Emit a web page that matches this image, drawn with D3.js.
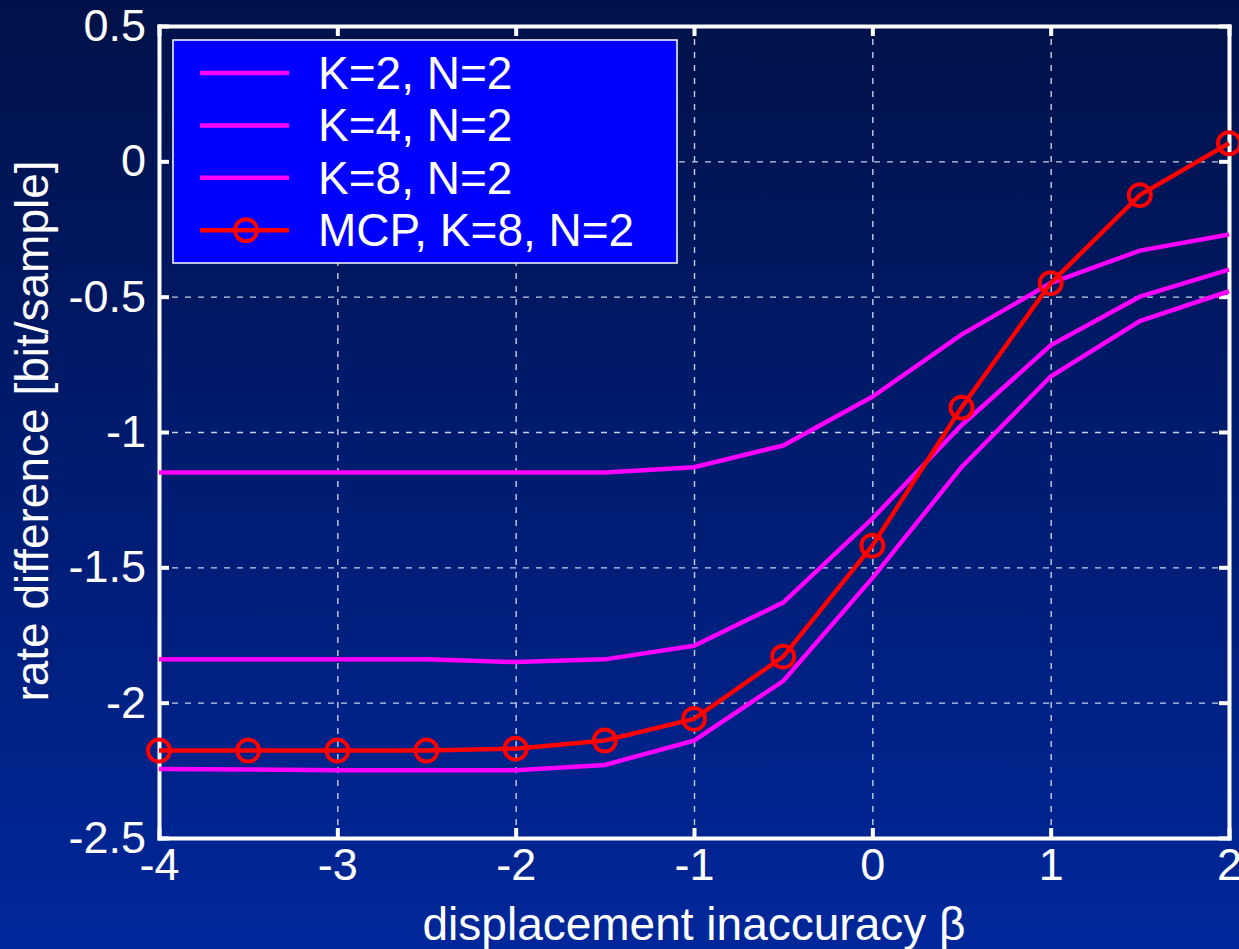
<!DOCTYPE html>
<html>
<head>
    <meta charset="utf-8">
    <script src="https://d3js.org/d3.v7.min.js"></script>
    <style>
        body { margin: 0; background: #001a70; }
        text { font-family: "Liberation Sans", Arial, sans-serif; fill: #fff; }
    </style>
</head>
<body>
<script>

    var beta = [-4, -3.5, -3, -2.5, -2, -1.5, -1, -0.5, 0, 0.5, 1, 1.5, 2];
    var k2 = [-1.15, -1.15, -1.15, -1.15, -1.15, -1.15, -1.13, -1.05, -0.87, -0.64, -0.45, -0.33, -0.27];
    var k4 = [-1.84, -1.84, -1.84, -1.84, -1.85, -1.84, -1.79, -1.63, -1.32, -0.975, -0.68, -0.50, -0.40];
    var k8 = [-2.245, -2.247, -2.25, -2.25, -2.25, -2.23, -2.14, -1.92, -1.54, -1.13, -0.795, -0.59, -0.48];
    var mcp = [-2.177, -2.177, -2.177, -2.177, -2.17, -2.14, -2.06, -1.83, -1.42, -0.91, -0.45, -0.125, 0.067];

    var xTicks = [-4, -3, -2, -1, 0, 1, 2];
    var yTicks = [-2.5, -2, -1.5, -1, -0.5, 0, 0.5];
    var legendLabels = ['K=2, N=2', 'K=4, N=2', 'K=8, N=2', 'MCP, K=8, N=2'];

    var width = 1239, height = 949;
    var plotLeft = 159, plotRight = 1229, plotTop = 26, plotBottom = 838;

    var xScale = d3.scaleLinear().domain([-4, 2]).range([plotLeft, plotRight]);
    var yScale = d3.scaleLinear().domain([-2.5, 0.5]).range([plotBottom, plotTop]);

    var svg = d3.select('body').append('svg')
        .attr('width', width)
        .attr('height', height);

    var grad = svg.append('defs').append('linearGradient')
        .attr('id', 'bg')
        .attr('x1', 0).attr('y1', 0).attr('x2', 0).attr('y2', 1);
    grad.append('stop').attr('offset', '0%').attr('stop-color', '#001148');
    grad.append('stop').attr('offset', '100%').attr('stop-color', '#00279a');

    svg.append('rect')
        .attr('width', width)
        .attr('height', height)
        .attr('fill', 'url(#bg)');

    // dashed grid
    var gridX = svg.append('g')
        .attr('transform', 'translate(0,' + plotBottom + ')')
        .call(d3.axisBottom(xScale).tickValues(xTicks.slice(1, -1)).tickSize(-(plotBottom - plotTop)).tickFormat(''));
    var gridY = svg.append('g')
        .attr('transform', 'translate(' + plotLeft + ',0)')
        .call(d3.axisLeft(yScale).tickValues(yTicks.slice(1, -1)).tickSize(-(plotRight - plotLeft)).tickFormat(''));
    [gridX, gridY].forEach(function(g) {
        g.select('.domain').remove();
        g.selectAll('line')
            .attr('stroke', '#c8cfe6')
            .attr('stroke-width', 1.4)
            .attr('stroke-dasharray', '6,7');
    });

    // axes (ticks point inward on all four sides)
    var fmt = function(d) { return String(d); };
    var axes = [
        svg.append('g').attr('transform', 'translate(0,' + plotBottom + ')')
            .call(d3.axisBottom(xScale).tickValues(xTicks).tickSizeInner(-10).tickSizeOuter(0).tickPadding(10).tickFormat(fmt)),
        svg.append('g').attr('transform', 'translate(0,' + plotTop + ')')
            .call(d3.axisTop(xScale).tickValues(xTicks).tickSizeInner(-10).tickSizeOuter(0).tickFormat('')),
        svg.append('g').attr('transform', 'translate(' + plotLeft + ',0)')
            .call(d3.axisLeft(yScale).tickValues(yTicks).tickSizeInner(-10).tickSizeOuter(0).tickPadding(13).tickFormat(fmt)),
        svg.append('g').attr('transform', 'translate(' + plotRight + ',0)')
            .call(d3.axisRight(yScale).tickValues(yTicks).tickSizeInner(-10).tickSizeOuter(0).tickFormat(''))
    ];
    axes.forEach(function(g) {
        g.select('.domain').attr('stroke', '#fff').attr('stroke-width', 4).attr('stroke-linecap', 'square');
        g.selectAll('.tick line').attr('stroke', '#fff').attr('stroke-width', 4);
        g.selectAll('.tick text')
            .attr('fill', '#fff')
            .style('font-size', '45px')
            .style('font-family', '"Liberation Sans", Arial, sans-serif');
    });

    // axis titles
    svg.append('text')
        .attr('x', (plotLeft + plotRight) / 2)
        .attr('y', 940)
        .attr('text-anchor', 'middle')
        .style('font-size', '46px')
        .text('displacement inaccuracy β');

    svg.append('text')
        .attr('transform', 'translate(48,' + 431 + ') rotate(-90)')
        .attr('text-anchor', 'middle')
        .style('font-size', '46px')
        .text('rate difference [bit/sample]');

    // series
    var line = d3.line()
        .x(function(d, i) { return xScale(beta[i]); })
        .y(function(d) { return yScale(d); });

    [k2, k4, k8].forEach(function(s) {
        svg.append('path')
            .attr('d', line(s))
            .attr('fill', 'none')
            .attr('stroke', '#ff00ff')
            .attr('stroke-width', 4.5);
    });

    svg.append('path')
        .attr('d', line(mcp))
        .attr('fill', 'none')
        .attr('stroke', '#ff0000')
        .attr('stroke-width', 4.5);

    svg.selectAll('circle.mcp').data(mcp)
        .enter().append('circle')
        .attr('class', 'mcp')
        .attr('cx', function(d, i) { return xScale(beta[i]); })
        .attr('cy', function(d) { return yScale(d); })
        .attr('r', 11)
        .attr('fill', 'none')
        .attr('stroke', '#ff0000')
        .attr('stroke-width', 4);

    // legend
    var legend = svg.append('g');
    legend.append('rect')
        .attr('x', 173).attr('y', 40)
        .attr('width', 504).attr('height', 223)
        .attr('fill', '#0000ff')
        .attr('stroke', '#fff')
        .attr('stroke-width', 1.5);

    var colors = ['#ff00ff', '#ff00ff', '#ff00ff', '#ff0000'];
    legendLabels.forEach(function(lbl, i) {
        var y = 73 + i * 52.4;
        legend.append('line')
            .attr('x1', 200).attr('x2', 289)
            .attr('y1', y).attr('y2', y)
            .attr('stroke', colors[i])
            .attr('stroke-width', 4.5);
        if (i == 3) {
            legend.append('circle')
                .attr('cx', 246).attr('cy', y).attr('r', 11)
                .attr('fill', 'none')
                .attr('stroke', '#ff0000')
                .attr('stroke-width', 4);
        }
        legend.append('text')
            .attr('x', 318)
            .attr('y', y + 16)
            .style('font-size', '46px')
            .text(lbl);
    });

</script>
</body>
</html>
